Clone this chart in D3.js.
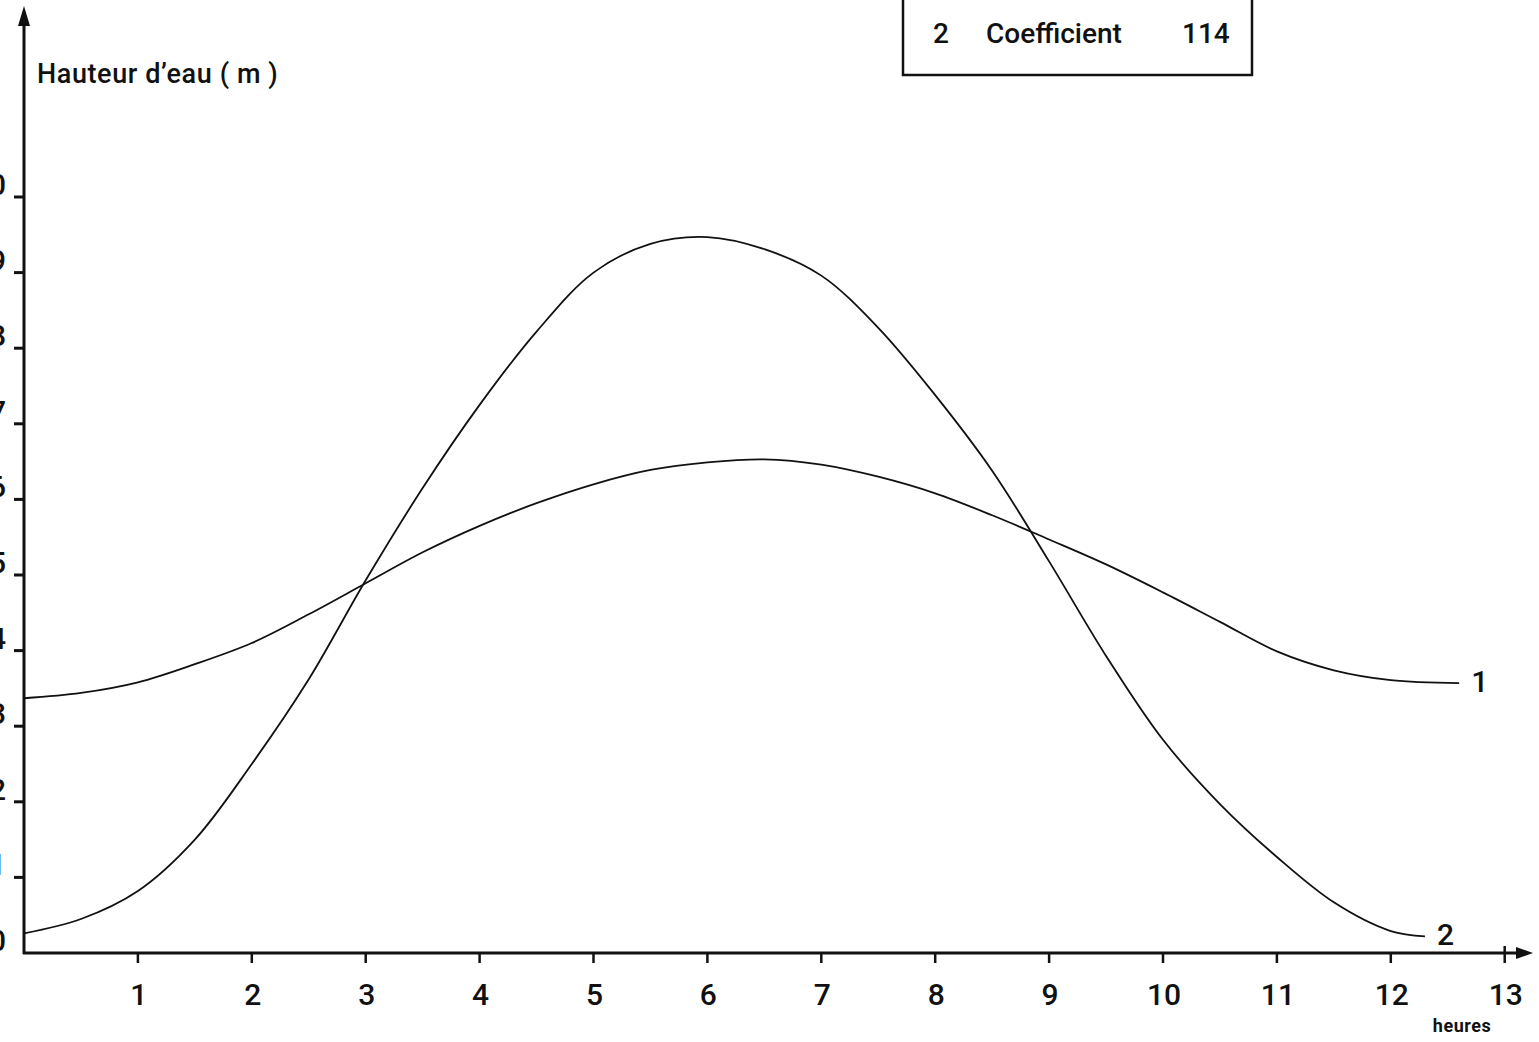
<!DOCTYPE html>
<html>
<head>
<meta charset="utf-8">
<script src="https://cdn.jsdelivr.net/npm/d3@7"></script>
<style>
  html, body { margin: 0; padding: 0; background: #fff; overflow: hidden; }
  text { font-family: Roboto, Lato, 'DejaVu Sans', sans-serif; font-weight: 500; fill: #111; }
</style>
</head>
<body>
<script>
// hours after low water, water height in metres
const hours1 = [0, 0.5, 1, 1.5, 2, 2.5, 3, 3.5, 4, 4.5, 5, 5.5, 6, 6.5, 7, 7.5, 8, 8.5, 9, 9.5, 10, 10.5, 11, 11.5, 12, 12.6];
const height1 = [3.37, 3.44, 3.58, 3.82, 4.10, 4.48, 4.89, 5.30, 5.65, 5.95, 6.20, 6.39, 6.49, 6.53, 6.46, 6.30, 6.08, 5.79, 5.47, 5.14, 4.77, 4.38, 3.99, 3.74, 3.61, 3.57];

const hours2 = [0, 0.5, 1, 1.5, 2, 2.5, 3, 3.5, 4, 4.5, 5, 5.5, 6, 6.5, 7, 7.5, 8, 8.5, 9, 9.5, 10, 10.5, 11, 11.5, 12, 12.3];
const height2 = [0.26, 0.45, 0.82, 1.50, 2.50, 3.62, 4.93, 6.15, 7.25, 8.22, 9.00, 9.38, 9.47, 9.31, 8.96, 8.27, 7.38, 6.38, 5.18, 3.93, 2.82, 1.97, 1.27, 0.67, 0.29, 0.22];

const xTicks = [1, 2, 3, 4, 5, 6, 7, 8, 9, 10, 11, 12, 13];
const yTicks = [1, 2, 3, 4, 5, 6, 7, 8, 9, 10];
const yLabels = [0, 1, 2, 3, 4, 5, 6, 7, 8, 9, 10];

const legendRow = ['2', 'Coefficient', '114'];

const width = 1539;
const height = 1042;
const origin = { x: 24, y: 953 };

const xScale = d3.scaleLinear()
  .domain([0, 13])
  .range([origin.x, origin.x + 13 * 113.9]);

const yScale = d3.scaleLinear()
  .domain([0, 10])
  .range([origin.y, origin.y - 10 * 75.6]);

const svg = d3.select('body')
  .append('svg')
  .attr('width', width)
  .attr('height', height);

// y axis with arrow
svg.append('line')
  .attr('x1', origin.x).attr('y1', origin.y + 1)
  .attr('x2', origin.x).attr('y2', 20)
  .style('stroke', '#111').style('stroke-width', 3);

svg.append('path')
  .attr('d', 'M' + origin.x + ',6 L' + (origin.x - 6) + ',26 L' + (origin.x + 6) + ',26 Z')
  .style('fill', '#111');

svg.append('g')
  .selectAll('line')
  .data(yTicks)
  .enter()
  .append('line')
  .attr('x1', origin.x - 10)
  .attr('x2', origin.x)
  .attr('y1', (d) => yScale(d))
  .attr('y2', (d) => yScale(d))
  .style('stroke', '#111')
  .style('stroke-width', 3);

// labels sit mostly beyond the left edge of the page, as in the scan
svg.append('g')
  .selectAll('text')
  .data(yLabels)
  .enter()
  .append('text')
  .attr('x', 6)
  .attr('y', (d) => yScale(d) - 2)
  .style('font-size', '30px')
  .style('text-anchor', 'end')
  .text((d) => d);

// x axis with arrow
svg.append('line')
  .attr('x1', origin.x - 1).attr('y1', origin.y)
  .attr('x2', 1520).attr('y2', origin.y)
  .style('stroke', '#111').style('stroke-width', 3);

svg.append('path')
  .attr('d', 'M1533,' + origin.y + ' L1516,' + (origin.y - 6) + ' L1516,' + (origin.y + 6) + ' Z')
  .style('fill', '#111');

svg.append('g')
  .selectAll('line')
  .data(xTicks)
  .enter()
  .append('line')
  .attr('x1', (d) => xScale(d))
  .attr('x2', (d) => xScale(d))
  .attr('y1', (d) => d === 13 ? origin.y - 7 : origin.y)
  .attr('y2', origin.y + 10)
  .style('stroke', '#111')
  .style('stroke-width', 2.5);

svg.append('g')
  .selectAll('text')
  .data(xTicks)
  .enter()
  .append('text')
  .attr('x', (d) => xScale(d) + 1)
  .attr('y', 1005)
  .style('font-size', '30px')
  .style('text-anchor', 'middle')
  .text((d) => d);

svg.append('text')
  .attr('x', 1462)
  .attr('y', 1032)
  .style('font-size', '18px')
  .style('font-weight', 'bold')
  .style('letter-spacing', '0.5px')
  .style('text-anchor', 'middle')
  .text('heures');

svg.append('text')
  .attr('x', 37)
  .attr('y', 83)
  .style('font-size', '27px')
  .style('letter-spacing', '0.6px')
  .text('Hauteur d\u2019eau ( m )');

// curves
const line = d3.line()
  .x((d) => xScale(d[0]))
  .y((d) => yScale(d[1]))
  .curve(d3.curveCatmullRom.alpha(0.5));

const series = [
  { label: '1', points: d3.zip(hours1, height1) },
  { label: '2', points: d3.zip(hours2, height2) }
];

svg.append('g')
  .selectAll('path')
  .data(series)
  .enter()
  .append('path')
  .attr('d', (d) => line(d.points))
  .style('fill', 'none')
  .style('stroke', '#111')
  .style('stroke-width', 1.8);

svg.append('g')
  .selectAll('text')
  .data(series)
  .enter()
  .append('text')
  .attr('x', (d) => xScale(d.points[d.points.length - 1][0]) + 12)
  .attr('y', (d) => yScale(d.points[d.points.length - 1][1]) + 9)
  .style('font-size', '30px')
  .text((d) => d.label);

// legend box, top cut off by the page edge
svg.append('rect')
  .attr('x', 903)
  .attr('y', -40)
  .attr('width', 349)
  .attr('height', 115)
  .style('fill', 'none')
  .style('stroke', '#111')
  .style('stroke-width', 2.5);

const legendX = [933, 986, 1182];

svg.append('g')
  .selectAll('text')
  .data(legendRow)
  .enter()
  .append('text')
  .attr('x', (d, i) => legendX[i])
  .attr('y', 43)
  .style('font-size', '28px')
  .text((d) => d);
</script>
</body>
</html>
